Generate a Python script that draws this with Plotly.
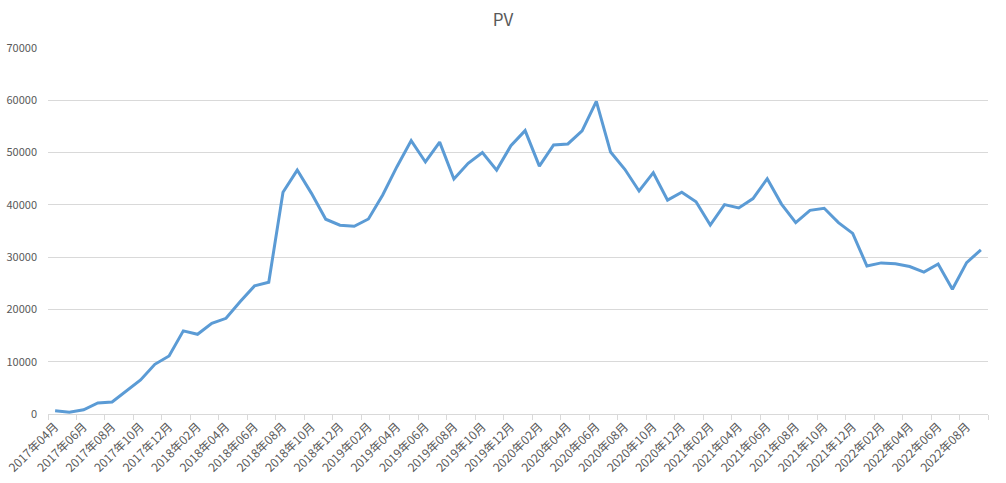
import plotly.graph_objects as go

months = []
for y in range(2017, 2023):
    for m in range(1, 13):
        if (y == 2017 and m < 4) or (y == 2022 and m > 9):
            continue
        months.append(f"{y}年{m:02d}月")

pv = [600, 350, 800, 2100, 2300, 4400, 6500, 9500, 11100, 15900,
      15250, 17350, 18300, 21500, 24500, 25200, 42400, 46650, 42200, 37250,
      36100, 35900, 37300, 41900, 47300, 52300, 48200, 52000, 44950, 47950,
      50000, 46650, 51300, 54200, 47400, 51450, 51650, 54150, 59800, 50100,
      46800, 42650, 46150, 40900, 42400, 40600, 36150, 40050, 39400, 41200,
      45000, 40150, 36600, 38950, 39350, 36600, 34550, 28300, 28900, 28750,
      28200, 27150, 28700, 23850, 28950, 31400]

x_idx = list(range(len(months)))
label_idx = x_idx[::2]
label_text = [months[i] for i in label_idx]
boundary_ticks = [i - 0.5 for i in range(0, len(months) + 1, 2)]

font_family = "Noto Sans CJK SC, Noto Sans, sans-serif"
txt_color = "#595959"
grid_color = "#d9d9d9"

fig = go.Figure()
fig.add_trace(go.Scatter(x=x_idx, y=pv, mode="lines",
                         line=dict(color="#5b9bd5", width=3), showlegend=False))
# invisible trace for tick-mark axis
fig.add_trace(go.Scatter(x=[x_idx[0]], y=[pv[0]], xaxis="x2", mode="lines",
                         line=dict(width=0), showlegend=False, hoverinfo="skip"))

rng = [-0.5, len(months) - 0.5]
fig.update_layout(
    width=1006, height=483,
    margin=dict(l=48, r=18, t=48, b=69, autoexpand=False),
    paper_bgcolor="white", plot_bgcolor="white",
    font=dict(family=font_family, color=txt_color, size=11),
    title=dict(text="PV", x=0.5, xref="container", xanchor="center",
               y=1 - 20 / 483, yref="container", yanchor="middle",
               font=dict(size=17, color=txt_color, family=font_family)),
    xaxis=dict(range=rng, tickmode="array", tickvals=label_idx, ticktext=label_text,
               tickangle=-45, ticks="", showgrid=False, zeroline=False,
               showline=True, linecolor=grid_color, linewidth=1,
               tickfont=dict(size=12, color=txt_color), automargin=False),
    xaxis2=dict(range=rng, overlaying="x", anchor="y", tickmode="array",
                tickvals=boundary_ticks, ticks="outside", ticklen=5,
                tickcolor=grid_color, showticklabels=False, showgrid=False,
                zeroline=False, showline=False, automargin=False),
    yaxis=dict(range=[0, 70000], tickmode="linear", tick0=0, dtick=10000,
               showgrid=True, gridcolor=grid_color, gridwidth=1, zeroline=False,
               ticks="", ticklabelstandoff=10, tickformat="d",
               tickfont=dict(size=11, color=txt_color), automargin=False),
)

fig.write_html("out.html")
